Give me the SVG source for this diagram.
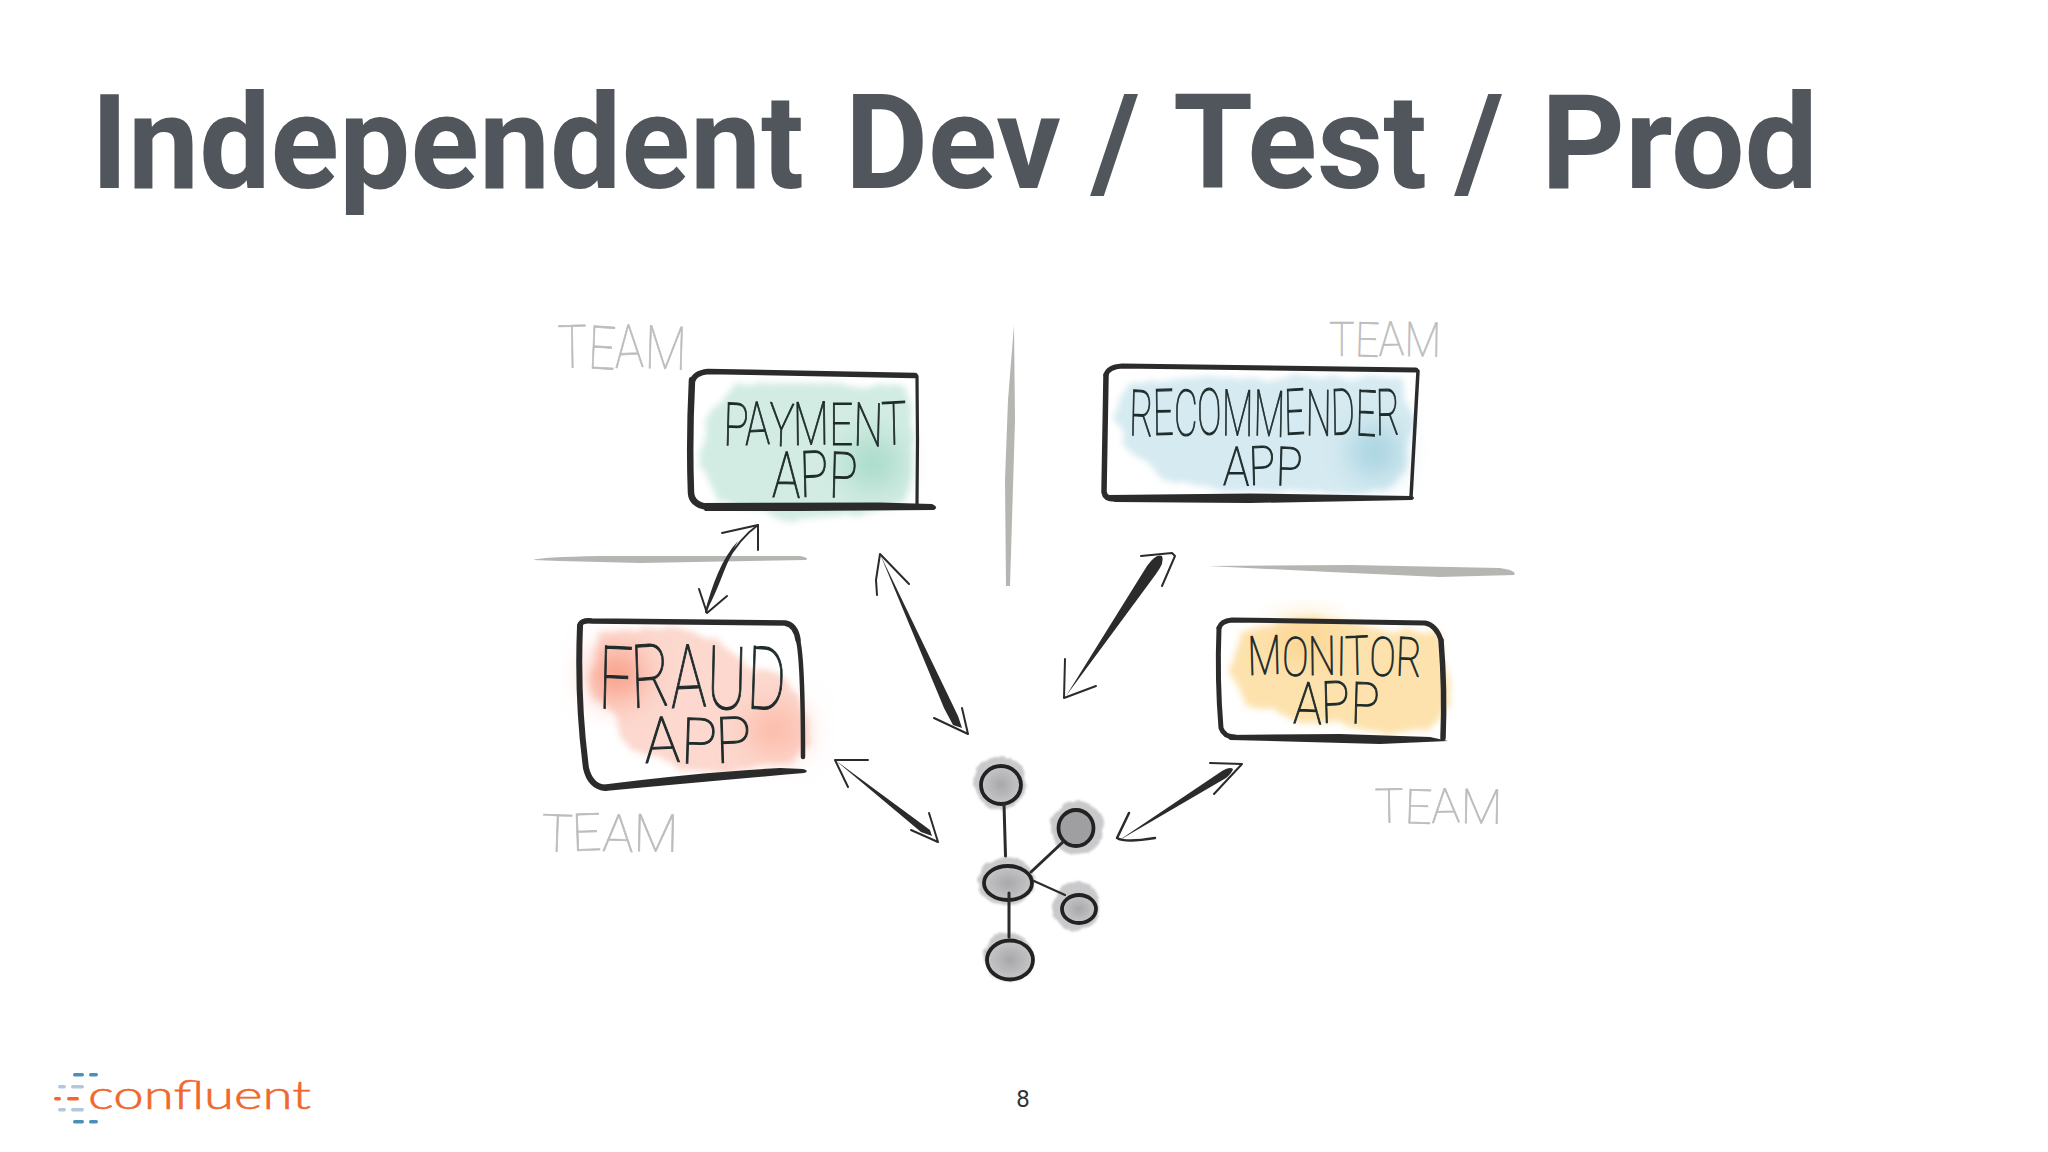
<svg xmlns="http://www.w3.org/2000/svg" width="2048" height="1152" viewBox="0 0 2048 1152">
<style>
.title{font-family:Roboto,"Liberation Sans",sans-serif;font-weight:700;font-size:131px;fill:#51565d}
.hw{font-family:Roboto,"Liberation Sans",sans-serif;font-weight:100;fill:#1e2b2b;stroke:#1e2b2b;stroke-width:1.100}
.tm{font-family:Roboto,"Liberation Sans",sans-serif;font-weight:100;fill:#bcbcbc;stroke:#bcbcbc;stroke-width:.7}
.o{fill:none;stroke:#2b2b2b;stroke-linecap:round;stroke-linejoin:round}
.f{fill:#2b2b2b}
.d{fill:#b5b5b2}
.b{fill:none;stroke:#2b2b2b;stroke-width:2;stroke-linecap:round;stroke-linejoin:round}
.k{stroke:#222;stroke-width:3.800;fill:url(#kg)}
.h{fill:#c9c9cb;filter:url(#wc2)}
.l{stroke:#2b2b2b;stroke-width:3;stroke-linecap:round;fill:none}
.bar1{fill:#4a90b8}.bar2{fill:#b4c6de}.bar3{fill:#f0682e}
</style>
<defs>
<radialGradient id="kg"><stop offset="0" stop-color="#a8a8aa"/><stop offset="1" stop-color="#c6c6c8"/></radialGradient>
<filter id="wc" x="-20%" y="-20%" width="140%" height="140%">
<feTurbulence type="fractalNoise" baseFrequency="0.035" numOctaves="3" seed="4"/>
<feDisplacementMap in="SourceGraphic" scale="14" xChannelSelector="R" yChannelSelector="G"/>
<feGaussianBlur stdDeviation="3"/>
</filter>
<filter id="wc2" x="-30%" y="-30%" width="160%" height="160%">
<feTurbulence type="fractalNoise" baseFrequency="0.08" numOctaves="2" seed="7"/>
<feDisplacementMap in="SourceGraphic" scale="7" xChannelSelector="R" yChannelSelector="G"/>
<feGaussianBlur stdDeviation="1.200"/>
</filter>
<filter id="sp" x="-60%" y="-60%" width="220%" height="220%"><feGaussianBlur stdDeviation="16"/></filter>
</defs>
<rect width="2048" height="1152" fill="#fff"/>
<text class="title" y="188"><tspan x="91" textLength="713" lengthAdjust="spacingAndGlyphs">Independent</tspan> <tspan x="845" textLength="216" lengthAdjust="spacingAndGlyphs">Dev</tspan> <tspan x="1091">/</tspan> <tspan x="1173" textLength="254" lengthAdjust="spacingAndGlyphs">Test</tspan> <tspan x="1455">/</tspan> <tspan x="1541" textLength="277" lengthAdjust="spacingAndGlyphs">Prod</tspan></text>

<g id="dividers">
<path class="d" d="M1014 325 L1015 420 L1012 520 L1010 586 L1006 586 L1005 480 L1008 400 Z"/>
<path class="d" d="M533 560 Q540 557 600 556 L800 556 Q810 558 806 560 L640 563 L560 561 Z"/>
<path class="d" d="M1208 566 L1350 565 L1500 568 Q1518 571 1514 575 L1440 577 L1330 572 Z"/>
</g>

<g id="payment-app">
<g filter="url(#wc)" fill="#d3ece3">
<path d="M735 385 L905 385 Q915 420 912 470 L905 502 L860 515 L790 520 L720 502 L697 465 L706 420 Z"/>
</g>
<ellipse cx="873" cy="463" rx="28" ry="26" fill="#a6dac8" filter="url(#sp)"/>
<path class="o" stroke-width="5.500" d="M692 382 Q694 373 708 371.500 L915 375.500"/>
<path class="o" stroke-width="6.500" d="M692 380 Q689 440 691 493 Q692 505 708 507"/>
<path class="o" stroke-width="3.200" d="M917 376 Q918 440 917 504"/>
<path class="f" d="M700 503 L880 502.500 L932 504 Q939 507 934 510 L800 511 L705 511 Z"/>
<text class="hw" x="723" y="445" font-size="60" textLength="184" lengthAdjust="spacingAndGlyphs" rotate="2 -2 3 -1 0 2 -2">PAYMENT</text>
<text class="hw" x="772" y="497" font-size="64" textLength="85" lengthAdjust="spacingAndGlyphs" rotate="1 -2 2">APP</text>
<text class="tm" x="558" y="368" font-size="60" textLength="128" lengthAdjust="spacingAndGlyphs" rotate="-1 3 -2 2">TEAM</text>
</g>

<g id="fraud-app">
<g filter="url(#wc)" fill="#fcd8ce">
<path d="M600 632 L680 628 L720 640 L745 665 L790 680 L806 720 L810 745 L790 765 L720 772 L680 770 L625 745 L610 710 L590 690 Z"/>
</g>
<ellipse cx="617" cy="675" rx="26" ry="24" fill="#f9967f" filter="url(#sp)"/>
<ellipse cx="775" cy="730" rx="28" ry="24" fill="#fdb8a6" filter="url(#sp)"/>
<path class="o" stroke-width="5.500" d="M580 626 Q580 620 592 621 L785 623 Q796 625 798 640"/>
<path class="o" stroke-width="4.500" d="M798 640 Q803 660 803 757"/>
<path class="o" stroke-width="6" d="M580 626 Q577 700 586 768 Q590 786 605 788"/>
<path class="f" d="M600 785 Q700 772 780 768 L803 769 Q810 771 804 773 Q700 782 605 791 Z"/>
<text class="hw" x="598" y="708" font-size="88" textLength="187" lengthAdjust="spacingAndGlyphs" rotate="2 -3 -2 2 3">FRAUD</text>
<text class="hw" x="645" y="763" font-size="64" textLength="107" lengthAdjust="spacingAndGlyphs" rotate="-2 2 -2">APP</text>
<text class="tm" x="541" y="851" font-size="52" textLength="137" lengthAdjust="spacingAndGlyphs" rotate="2 -2 2 1">TEAM</text>
</g>

<g id="recommender-app">
<g filter="url(#wc)" fill="#d6eaf1">
<path d="M1125 385 L1200 378 L1400 378 L1414 420 L1405 475 L1380 492 L1240 492 L1160 480 L1125 445 L1114 415 Z"/>
</g>
<ellipse cx="1375" cy="452" rx="24" ry="24" fill="#9fcfde" filter="url(#sp)"/>
<path class="o" stroke-width="5" d="M1106 375 Q1108 367 1122 366 L1416 370"/>
<path class="o" stroke-width="5.500" d="M1106 375 L1104 492 Q1105 499 1115 499"/>
<path class="o" stroke-width="3.500" d="M1418 371 L1411 497"/>
<path class="f" d="M1108 495 L1250 493.500 L1412 496 Q1416 498 1412 500 L1250 503 L1115 502 Z"/>
<text class="hw" x="1129" y="435" font-size="64" textLength="271" lengthAdjust="spacingAndGlyphs" rotate="2 -1 1 -2 1 2 -2 1 -2 2 -1">RECOMMENDER</text>
<text class="hw" x="1223" y="485" font-size="54" textLength="79" lengthAdjust="spacingAndGlyphs" rotate="1 -2 2">APP</text>
<text class="tm" x="1329" y="356" font-size="48" textLength="112" lengthAdjust="spacingAndGlyphs" rotate="0 2 -2 1">TEAM</text>
</g>

<g id="monitor-app">
<g filter="url(#wc)" fill="#fde2ad">
<path d="M1240 632 L1290 620 L1330 618 L1370 628 L1440 632 L1446 680 L1450 700 L1425 732 L1340 726 L1300 720 L1245 705 L1232 670 Z"/>
</g>
<ellipse cx="1305" cy="640" rx="30" ry="18" fill="#fbd28a" filter="url(#sp)"/>
<path class="o" stroke-width="5" d="M1219 628 Q1221 621 1232 620 L1425 623 Q1436 625 1441 640"/>
<path class="o" stroke-width="5.500" d="M1441 640 Q1445 690 1443 738"/>
<path class="o" stroke-width="5" d="M1219 628 Q1217 680 1221 728 Q1224 737 1235 737"/>
<path class="f" d="M1225 735 L1340 734 L1430 737 L1448 741 L1380 744 L1230 740 Z"/>
<text class="hw" x="1248" y="675" font-size="54" textLength="173" lengthAdjust="spacingAndGlyphs" rotate="-2 2 -1 1 -2 2 3">MONITOR</text>
<text class="hw" x="1293" y="723" font-size="58" textLength="86" lengthAdjust="spacingAndGlyphs" rotate="2 -2 2">APP</text>
<text class="tm" x="1375" y="823" font-size="48" textLength="127" lengthAdjust="spacingAndGlyphs" rotate="-1 2 -2 1">TEAM</text>
</g>

<g id="kafka-cluster">
<g id="kafka-node-1"><ellipse class="h" cx="1000" cy="783" rx="26" ry="27"/><ellipse class="k" cx="1001" cy="785" rx="20" ry="19"/></g>
<g id="kafka-node-2"><ellipse class="h" cx="1077" cy="828" rx="27" ry="27"/><ellipse class="k" cx="1076" cy="828" rx="17.500" ry="18" style="fill:#9f9fa1"/></g>
<g id="kafka-node-3"><ellipse class="h" cx="1006" cy="881" rx="29" ry="24"/><ellipse class="k" cx="1008" cy="883" rx="24" ry="17"/></g>
<g id="kafka-node-4"><ellipse class="h" cx="1076" cy="906" rx="23" ry="25"/><ellipse class="k" cx="1079" cy="909" rx="17" ry="14"/></g>
<g id="kafka-node-5"><ellipse class="h" cx="1008" cy="957" rx="24" ry="25"/><ellipse class="k" cx="1010" cy="960" rx="23" ry="19.500"/></g>
</g>

<g id="connectors">
<path class="l" d="M1004 804 L1005.500 856"/>
<path class="l" d="M1063 842 L1031 872"/>
<path class="l" d="M1034 881 L1065 895" style="stroke-width:2.200"/>
<path class="l" d="M1009 893 L1009 937"/>

<path class="o" stroke-width="2" d="M758 525 C730 545 716 580 706 612"/>
<path class="f" d="M738 541 C722 558 712 585 705 612 C716 598 724 566 738 541 Z"/>
<path class="b" d="M722 533 L758 525 L758 550"/>
<path class="b" d="M699 589 L707 613 L727 596"/>

<path class="f" d="M880 554 L958 716 L962 728 L953 725 L944 708 Z"/>
<path class="b" d="M877 595 L876 580 L880 554 L909 584"/>
<path class="b" d="M934 718 L968 734 L962 708"/>

<path class="f" d="M835 760 L930 830 L932 836 L921 832 Z"/>
<path class="b" d="M868 760 L835 760 L848 787"/>
<path class="b" d="M911 830 L938 842 L929 813"/>

<path class="f" d="M1066 696 L1147 566 Q1156 553 1162 556 Q1165 562 1156 574 Z"/>
<path class="b" d="M1141 556 L1172 553 L1175 556 L1162 586"/>
<path class="b" d="M1065 659 L1064 698 L1096 686"/>

<path class="f" d="M1118 841 L1222 771 Q1230 766 1233 769 Q1232 773 1226 778 Z"/>
<path class="b" d="M1210 763 L1242 764 L1214 794"/>
<path class="b" d="M1129 813 L1117 838 Q1125 843 1155 838" style="stroke-width:2.500"/>
</g>

<g id="logo">
<rect class="bar1" x="73" y="1073" width="11" height="3.500" rx="1.700"/><rect class="bar1" x="89" y="1073" width="9" height="3.500" rx="1.700"/>
<rect class="bar2" x="58" y="1085" width="8" height="3.500" rx="1.700"/><rect class="bar2" x="71" y="1085" width="13" height="3.500" rx="1.700"/>
<rect class="bar3" x="54" y="1097" width="7" height="3.500" rx="1.700"/><rect class="bar3" x="67" y="1097" width="12" height="3.500" rx="1.700"/>
<rect class="bar2" x="58" y="1108" width="8" height="3.500" rx="1.700"/><rect class="bar2" x="71" y="1108" width="13" height="3.500" rx="1.700"/>
<rect class="bar1" x="73" y="1120" width="11" height="3.500" rx="1.700"/><rect class="bar1" x="89" y="1120" width="9" height="3.500" rx="1.700"/>
<text x="88" y="1109" font-family="Lato,'Open Sans',sans-serif" font-weight="300" font-size="40" fill="#f0682e" stroke="#f0682e" stroke-width=".6" textLength="223" lengthAdjust="spacingAndGlyphs">confluent</text>
</g>
<text x="1023" y="1113" dy="-6" text-anchor="middle" font-family="Roboto,'Liberation Sans',sans-serif" font-size="24" fill="#333">8</text>
</svg>
